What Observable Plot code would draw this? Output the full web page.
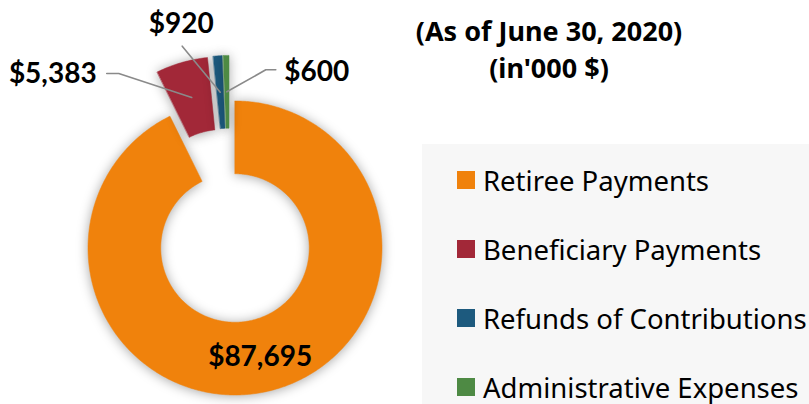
<!DOCTYPE html>
<html>
<head>
<meta charset="utf-8">
<script src="https://cdn.jsdelivr.net/npm/d3@7"></script>
<script src="https://cdn.jsdelivr.net/npm/@observablehq/plot@0.6"></script>
<style>
  html, body { margin: 0; padding: 0; background: #fff; }
  #wrap { position: relative; width: 809px; height: 404px; overflow: hidden; font-family: "Noto Sans", "Open Sans", sans-serif; }
  #chart { position: absolute; left: 0; top: 0; }
  .sub { position: absolute; left: 380px; width: 338px; text-align: center; font-weight: bold; font-size: 27px; line-height: 32px; color: #000; white-space: nowrap; }
  #legend { position: absolute; left: 422px; top: 144px; width: 400px; height: 300px; background: #f7f7f7; }
  .item { position: absolute; left: 35px; height: 32px; display: flex; align-items: center; white-space: nowrap; font-size: 27.5px; color: #000; }
  .sw { width: 18px; height: 18px; margin-right: 8px; flex: none; }
</style>
</head>
<body>
<div id="wrap">
  <div id="chart"></div>
  <div class="sub" id="sub1"></div>
  <div class="sub" id="sub2"></div>
  <div id="legend"></div>
</div>
<script>
// ---- data ----
const categories = ["Retiree Payments", "Beneficiary Payments", "Refunds of Contributions", "Administrative Expenses"];
const values = [87695, 5383, 920, 600];
const valueLabels = ["$87,695", "$5,383", "$920", "$600"];
const colors = ["#F0820C", "#A22838", "#1D5A7E", "#4E8A44"];
const subtitleLines = ["(As of June 30, 2020)", "(in'000 $)"];

// ---- layout (pixels) ----
const W = 809, H = 404;
const cx = 234.5, cy = 247.5, R = 147, innerRatio = 0.505;
// explosion offset per slice (px, y down)
const explodeOffset = [[0, 0], [-12.7, -44.2], [-7, -45.5], [-6, -45.6]];
// label offsets & leader points relative to each slice centroid (px, y down)
const labelLayout = [
  { label: [0, 1], leader: null },
  { label: [-139, -23], leader: [[-85, -24], [-73, -24], [0, 0]] },
  { label: [-39, -68], leader: [[-38, -46], [0, 0]] },
  { label: [90, -20], leader: [[49, -22], [39, -22], [0, 0]] }
];

// ---- geometry in data units (radius 1 = R px) ----
const pie = d3.pie().sort(null).startAngle(0).endAngle(2 * Math.PI)(values);
const ri = innerRatio;
const slicePts = [], leaderPts = [], labelPts = [];
pie.forEach((p, i) => {
  const m = (p.startAngle + p.endAngle) / 2;
  const ox = explodeOffset[i][0] / R, oy = -explodeOffset[i][1] / R;
  const n = Math.max(4, Math.ceil((p.endAngle - p.startAngle) / 0.01));
  for (let k = 0; k <= n; k++) {
    const a = p.startAngle + (p.endAngle - p.startAngle) * k / n;
    slicePts.push({ name: categories[i], x: ox + Math.sin(a), y: oy + Math.cos(a) });
  }
  for (let k = n; k >= 0; k--) {
    const a = p.startAngle + (p.endAngle - p.startAngle) * k / n;
    slicePts.push({ name: categories[i], x: ox + ri * Math.sin(a), y: oy + ri * Math.cos(a) });
  }
  const rm = (1 + ri) / 2;
  const ccx = ox + rm * Math.sin(m), ccy = oy + rm * Math.cos(m);
  const L = labelLayout[i];
  labelPts.push({ name: categories[i], text: valueLabels[i], x: ccx + L.label[0] / R, y: ccy - L.label[1] / R });
  if (L.leader) L.leader.forEach(q => leaderPts.push({ name: categories[i], x: ccx + q[0] / R, y: ccy - q[1] / R }));
});

const sliceMarks = categories.map((c, i) =>
  Plot.line(slicePts.filter(d => d.name === c), { x: "x", y: "y", fill: colors[i], stroke: colors[i], strokeWidth: 0.5, curve: "linear-closed" })
);

const plot = Plot.plot({
  width: W, height: H, margin: 0,
  style: { background: "transparent", overflow: "visible" },
  x: { domain: [-cx / R, (W - cx) / R], range: [0, W], axis: null },
  y: { domain: [-(H - cy) / R, cy / R], range: [H, 0], axis: null },
  marks: [
    ...sliceMarks,
    Plot.line(leaderPts, { x: "x", y: "y", z: "name", stroke: "#8a8a8a", strokeWidth: 1.6 }),
    Plot.text(labelPts, { x: "x", y: "y", text: "text", fontSize: 28, fontWeight: "bold", fill: "#000", fontFamily: "Lato" })
  ]
});
const gs = plot.querySelectorAll('g[aria-label="line"]');
for (let i = 0; i < categories.length && i < gs.length; i++) gs[i].style.filter = "drop-shadow(0px 1px 6px rgba(0,0,0,0.35))";
document.getElementById("chart").appendChild(plot);

document.getElementById("sub1").textContent = subtitleLines[0];
document.getElementById("sub1").style.top = "15px";
document.getElementById("sub2").textContent = subtitleLines[1];
document.getElementById("sub2").style.top = "52px";

const legend = document.getElementById("legend");
categories.forEach((c, i) => {
  const it = document.createElement("div");
  it.className = "item";
  it.style.top = (20 + i * 69) + "px";
  const sw = document.createElement("div");
  sw.className = "sw";
  sw.style.background = colors[i];
  const t = document.createElement("span");
  t.textContent = c;
  it.appendChild(sw); it.appendChild(t);
  legend.appendChild(it);
});
</script>
</body>
</html>
